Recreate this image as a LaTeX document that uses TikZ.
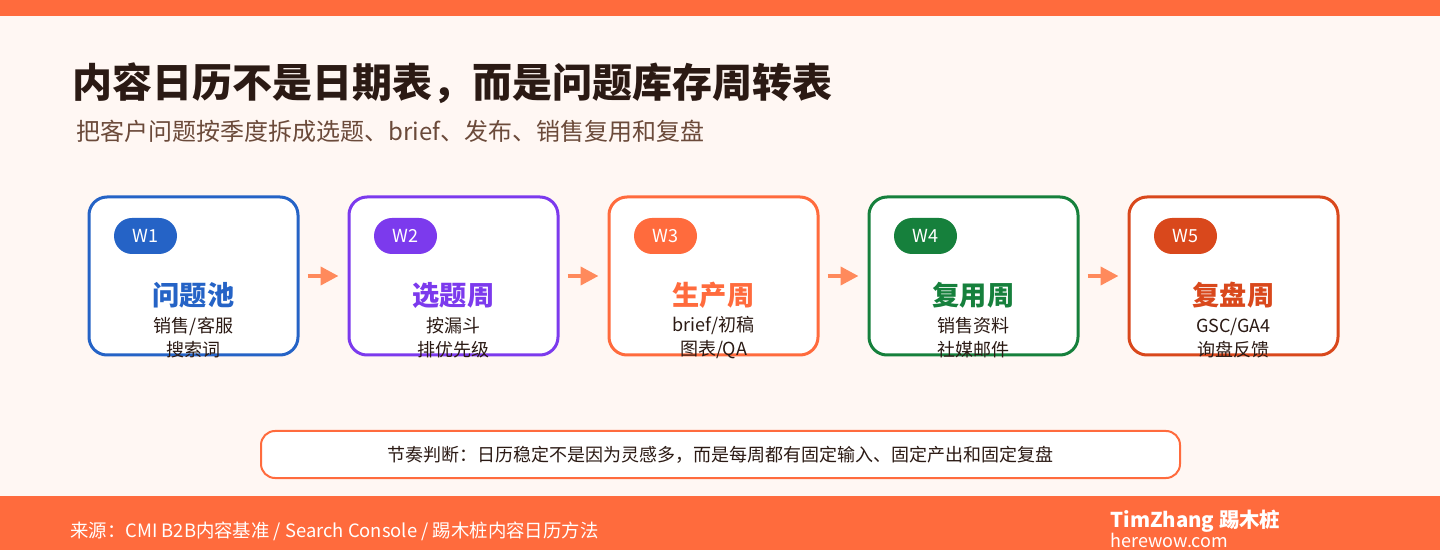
\documentclass[tikz,border=0pt]{standalone}
\usepackage{fontspec}
\setmainfont{Noto Sans CJK SC}
\usepackage{xcolor}
\usetikzlibrary{positioning,arrows.meta}

\definecolor{paper}{HTML}{FFF7F3}
\definecolor{accent}{HTML}{FF6B3D}
\definecolor{flowc}{HTML}{FF8A5C}
\definecolor{ink}{HTML}{2B1A14}
\definecolor{subink}{HTML}{6B4A3A}
\definecolor{wblue}{HTML}{2563C6}
\definecolor{wpurple}{HTML}{7C3AED}
\definecolor{worange}{HTML}{FF6B3D}
\definecolor{wgreen}{HTML}{16803C}
\definecolor{wred}{HTML}{D9481C}

\begin{document}
\begin{tikzpicture}[
  x=0.5pt, y=-0.5pt,
  weekbox/.style={draw=#1, line width=1.5pt, fill=white, rounded corners=9pt,
    minimum width=104.5pt, minimum height=79pt, inner sep=0pt},
  pill/.style={fill=#1, text=white, rounded corners=9pt, minimum width=31.5pt,
    minimum height=18pt, inner sep=0pt, font=\fontsize{9}{11}\selectfont},
  wtitle/.style={text=#1, inner sep=0pt, font=\bfseries\fontsize{13.6}{15}\selectfont},
  wlines/.style={text=ink, inner sep=0pt, align=center, font=\fontsize{9}{12}\selectfont},
  flow/.style={draw=flowc, line width=2pt, -{Triangle[length=9pt,width=9pt]},
    shorten <=4pt, shorten >=4.5pt},
  notebox/.style={draw=accent, line width=1pt, fill=white, rounded corners=7pt,
    minimum width=459.5pt, minimum height=23.5pt, inner sep=0pt,
    text=ink, font=\fontsize{9}{11}\selectfont},
]

% background and bars
\fill[paper] (0,0) rectangle (1440,550);
\fill[accent] (0,0) rectangle (1440,16);
\fill[accent] (0,496) rectangle (1440,550);

% heading
\node[anchor=west, inner sep=0pt, text=ink, font=\bfseries\fontsize{20}{24}\selectfont]
  (title) at (72,83) {内容日历不是日期表，而是问题库存周转表};
\node[anchor=west, inner sep=0pt, text=subink, font=\fontsize{12}{14}\selectfont]
  (subtitle) at (76,131) {把客户问题按季度拆成选题、brief、发布、销售复用和复盘};

% week boxes
\foreach \i/\x/\col/\name/\la/\lb in {
    1/193.5/wblue/问题池/{销售/客服}/搜索词,
    2/453.5/wpurple/选题周/按漏斗/排优先级,
    3/713.5/worange/生产周/{brief/初稿}/{图表/QA},
    4/973.5/wgreen/复用周/销售资料/社媒邮件,
    5/1233.5/wred/复盘周/{GSC/GA4}/询盘反馈} {
  \node[weekbox=\col] (box\i) at (\x,276) {};
  \node[pill=\col] (pill\i) at (\x-48,236) {W\i};
  \node[wtitle=\col] (name\i) at (\x,295) {\name};
  \node[wlines] (lines\i) at (\x,338) {\la\\\lb};
}

% arrows between weeks
\foreach \i in {1,...,4} {
  \pgfmathtruncatemacro{\j}{\i+1}
  \draw[flow] (box\i) -- (box\j);
}

% rhythm note
\node[notebox] (note) at (720.5,454.5)
  {节奏判断：日历稳定不是因为灵感多，而是每周都有固定输入、固定产出和固定复盘};

% footer
\node[anchor=west, inner sep=0pt, text=white, font=\fontsize{9.2}{11}\selectfont]
  (source) at (70,531) {来源：CMI B2B内容基准 / Search Console / 踢木桩内容日历方法};
\node[anchor=west, inner sep=0pt, text=white, font=\bfseries\fontsize{10.2}{12}\selectfont]
  (brand) at (1110,521) {TimZhang 踢木桩};
\node[anchor=west, inner sep=0pt, text=white, font=\fontsize{9}{11}\selectfont]
  (site) at (1110,540) {herewow.com};
\end{tikzpicture}
\end{document}
